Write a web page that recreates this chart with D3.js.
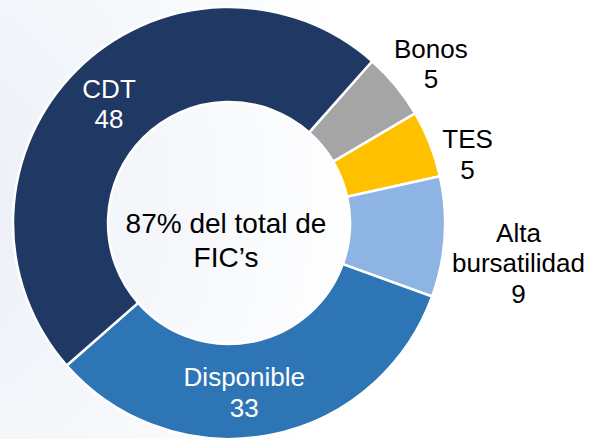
<!DOCTYPE html>
<html>
<head>
<meta charset="utf-8">
<script src="https://cdn.jsdelivr.net/npm/d3@7/dist/d3.min.js"></script>
<style>
  html, body { margin: 0; padding: 0; background: #ffffff; }
  svg { display: block; }
</style>
</head>
<body>
<svg id="chart" width="589" height="439"></svg>
<script>
// ---- data ----
const categories = ["Bonos", "TES", "Alta bursatilidad", "Disponible", "CDT"];
const values = [5, 5, 9, 33, 48];
const labelLines = [["Bonos", "5"], ["TES", "5"], ["Alta", "bursatilidad", "9"], ["Disponible", "33"], ["CDT", "48"]];
const centerLines = ["87% del total de", "FIC\u2019s"];

// ---- styles / layout ----
const colors = {
  "Bonos": "#a5a5a5",
  "TES": "#ffc000",
  "Alta bursatilidad": "#8eb4e3",
  "Disponible": "#2e75b6",
  "CDT": "#203864"
};
const inside = { "Disponible": true, "CDT": true };
const labelShift = {
  "Bonos": [9, 0],
  "TES": [6, 23],
  "Alta bursatilidad": [40, 24],
  "Disponible": [-16, 4],
  "CDT": [-1, 0]
};
const W = 589, H = 439;
const cx = 229, cy = 223, R = 216, r = 121;
const startDeg = 41.5;
const fontSize = 26, lineH = 30.5;

const svg = d3.select("#chart");
const defs = svg.append("defs");
const grad = defs.append("radialGradient")
  .attr("id", "bg").attr("gradientUnits", "userSpaceOnUse")
  .attr("cx", -120).attr("cy", 200).attr("r", 700);
grad.append("stop").attr("offset", "0%").attr("stop-color", "#e6ecf4");
grad.append("stop").attr("offset", "17%").attr("stop-color", "#eef2f8");
grad.append("stop").attr("offset", "45%").attr("stop-color", "#f6f8fb");
grad.append("stop").attr("offset", "70%").attr("stop-color", "#ffffff");
grad.append("stop").attr("offset", "100%").attr("stop-color", "#ffffff");
svg.append("rect").attr("width", W).attr("height", H).attr("fill", "url(#bg)");

const data = categories.map((c, i) => ({ cat: c, value: values[i], lines: labelLines[i] }));

const pie = d3.pie().value(d => d.value).sort(null)
  .startAngle(startDeg * Math.PI / 180)
  .endAngle(startDeg * Math.PI / 180 + 2 * Math.PI);
const arcs = pie(data);

const arc = d3.arc().innerRadius(r).outerRadius(R);
const outerLabelArc = d3.arc().innerRadius(250).outerRadius(250);

const g = svg.append("g").attr("transform", `translate(${cx},${cy})`);

g.selectAll("path.slice").data(arcs).join("path")
  .attr("class", "slice")
  .attr("d", arc)
  .attr("fill", d => colors[d.data.cat])
  .attr("stroke", "#ffffff")
  .attr("stroke-width", 2.5)
  .attr("stroke-linejoin", "miter");

g.selectAll("text.lbl").data(arcs).join("text")
  .attr("class", "lbl")
  .attr("font-family", "Liberation Sans, Arial, sans-serif")
  .attr("font-size", fontSize)
  .attr("text-anchor", "middle")
  .attr("fill", d => inside[d.data.cat] ? "#ffffff" : "#000000")
  .each(function(d) {
    const p = inside[d.data.cat] ? arc.centroid(d) : outerLabelArc.centroid(d);
    const s = labelShift[d.data.cat];
    const x = p[0] + s[0], y = p[1] + s[1];
    const n = d.data.lines.length;
    const t = d3.select(this);
    d.data.lines.forEach((ln, i) => {
      t.append("tspan")
        .attr("x", x)
        .attr("y", y + (i - (n - 1) / 2) * lineH + 0.35 * fontSize)
        .text(ln);
    });
  });

const ct = g.append("text")
  .attr("font-family", "Liberation Sans, Arial, sans-serif")
  .attr("font-size", 28)
  .attr("text-anchor", "middle")
  .attr("fill", "#000000");
centerLines.forEach((ln, i) => {
  ct.append("tspan").attr("x", -3)
    .attr("y", 17 + (i - (centerLines.length - 1) / 2) * 34 + 0.35 * 28)
    .text(ln);
});
</script>
</body>
</html>
